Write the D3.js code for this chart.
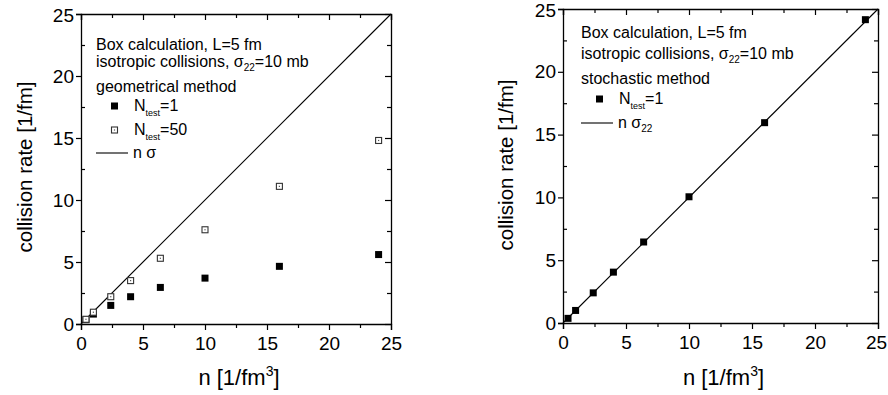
<!DOCTYPE html>
<html>
<head>
<meta charset="utf-8">
<script src="https://cdn.jsdelivr.net/npm/d3@7"></script>
<style>
  body { margin: 0; background: #fff; }
  svg { display: block; font-family: "Liberation Sans", Arial, sans-serif; }
</style>
</head>
<body>
<svg id="chart" width="888" height="395"></svg>
<script>
var svgWidth = 888, svgHeight = 395;

// density values n [1/fm^3]
var density = [0.4, 1, 2.4, 4, 6.4, 10, 16, 24];
// geometrical method
var geoNtest1 = [0.35, 0.8, 1.5, 2.2, 2.95, 3.7, 4.65, 5.6];
var geoNtest50 = [0.38, 0.95, 2.2, 3.5, 5.3, 7.6, 11.1, 14.8];
// stochastic method
var stochNtest1 = [0.37, 1.0, 2.4, 4.05, 6.45, 10.05, 15.95, 24.15];
// reference line n*sigma
var lineX = [0, 25];
var lineY = [0, 25];
var tickValues = [0, 5, 10, 15, 20, 25];
var minorTicks = [2.5, 7.5, 12.5, 17.5, 22.5];

var svg = d3.select('#chart');

function drawPanel(p) {
    var xScale = d3.scaleLinear().domain([0, 25]).range([p.left, p.right]),
        yScale = d3.scaleLinear().domain([0, 25]).range([p.bottom, p.top]);

    var g = svg.append('g');

    // axes: left/bottom ticks outward, top/right ticks inward
    var bottom = g.append('g').attr('transform', 'translate(0,' + p.bottom + ')')
        .call(d3.axisBottom(xScale).tickValues(tickValues).tickSize(6).tickPadding(7));
    g.append('g').attr('transform', 'translate(0,' + p.top + ')')
        .call(d3.axisBottom(xScale).tickValues(tickValues).tickSize(6).tickFormat(''));
    var left = g.append('g').attr('transform', 'translate(' + p.left + ',0)')
        .call(d3.axisLeft(yScale).tickValues(tickValues).tickSize(5).tickPadding(2));
    var right = g.append('g').attr('transform', 'translate(' + p.right + ',0)')
        .call(d3.axisLeft(yScale).tickValues(tickValues).tickSize(-6).tickSizeOuter(0).tickFormat(''));
    right.selectAll('.tick line').attr('x2', -6);

    // minor ticks
    g.append('g').attr('transform', 'translate(0,' + p.bottom + ')')
        .call(d3.axisBottom(xScale).tickValues(minorTicks).tickSize(4).tickFormat('')).select('.domain').remove();
    g.append('g').attr('transform', 'translate(0,' + p.top + ')')
        .call(d3.axisBottom(xScale).tickValues(minorTicks).tickSize(4).tickFormat('')).select('.domain').remove();
    g.append('g').attr('transform', 'translate(' + p.left + ',0)')
        .call(d3.axisLeft(yScale).tickValues(minorTicks).tickSize(-4).tickFormat('')).select('.domain').remove();
    g.append('g').attr('transform', 'translate(' + p.right + ',0)')
        .call(d3.axisLeft(yScale).tickValues(minorTicks).tickSize(4).tickFormat('')).select('.domain').remove();

    g.selectAll('.domain').attr('stroke-width', 1.3).attr('stroke', '#000');
    g.selectAll('.tick line').attr('stroke-width', 1.2).attr('stroke', '#000');
    g.selectAll('.tick text').attr('font-size', 19).attr('font-family', '"Liberation Sans", Arial, sans-serif').attr('fill', '#000');
    // keep the last x label inside the picture
    bottom.selectAll('.tick text').filter(function(d) { return d === 25; }).attr('dx', p.lastDx);
    left.selectAll('.tick text').filter(function(d) { return d === 25; }).attr('dy', '0.4em');

    // n sigma line
    var line = d3.line().x(function(d) { return xScale(d[0]); }).y(function(d) { return yScale(d[1]); });
    g.append('path')
        .datum(d3.zip(lineX, lineY))
        .attr('d', line)
        .attr('fill', 'none')
        .attr('stroke', '#000')
        .attr('stroke-width', 1.1);

    // data series
    p.series.forEach(function(s) {
        var pts = d3.zip(density, s.values);
        var sel = g.append('g').selectAll('rect').data(pts).enter();
        if (s.filled) {
            sel.append('rect')
                .attr('x', function(d) { return xScale(d[0]) - 3.5; })
                .attr('y', function(d) { return yScale(d[1]) - 3.5; })
                .attr('width', 7).attr('height', 7)
                .attr('fill', '#000');
        } else {
            sel.append('rect')
                .attr('x', function(d) { return xScale(d[0]) - 3; })
                .attr('y', function(d) { return yScale(d[1]) - 3; })
                .attr('width', 6).attr('height', 6)
                .attr('fill', '#fff').attr('stroke', '#333').attr('stroke-width', 1.1);
            sel.append('rect')
                .attr('x', function(d) { return xScale(d[0]) - 0.6; })
                .attr('y', function(d) { return yScale(d[1]) - 0.6; })
                .attr('width', 1.2).attr('height', 1.2)
                .attr('fill', '#555');
        }
    });

    // axis titles
    var xt = g.append('text')
        .attr('x', (p.left + p.right) / 2 + 3)
        .attr('y', 385)
        .attr('text-anchor', 'middle')
        .attr('font-size', 22);
    xt.append('tspan').text('n [1/fm');
    xt.append('tspan').attr('font-size', 14).attr('dy', -9).text('3');
    xt.append('tspan').attr('dy', 9).text(']');

    g.append('text')
        .attr('transform', 'translate(' + p.yTitleX + ',' + p.yTitleY + ') rotate(-90)')
        .attr('text-anchor', 'middle')
        .attr('font-size', 20.5)
        .text('collision rate [1/fm]');

    // legend text block
    var lx = p.legendX;
    var fs = 16;
    function plain(txt, y) {
        g.append('text').attr('x', lx).attr('y', y).attr('font-size', fs).text(txt);
    }
    plain('Box calculation, L=5 fm', p.legendY[0]);
    var t2 = g.append('text').attr('x', lx).attr('y', p.legendY[1]).attr('font-size', fs);
    t2.append('tspan').text('isotropic collisions, ');
    t2.append('tspan').text('σ');
    t2.append('tspan').attr('font-size', 10).attr('dy', 4).text('22');
    t2.append('tspan').attr('dy', -4).text('=10 mb');
    plain(p.method, p.legendY[2]);

    p.series.forEach(function(s, i) {
        var y = p.legendY[3 + i];
        if (s.filled) {
            g.append('rect').attr('x', lx + 15).attr('y', y - 8.5).attr('width', 7).attr('height', 7).attr('fill', '#000');
        } else {
            g.append('rect').attr('x', lx + 15.5).attr('y', y - 8).attr('width', 6).attr('height', 6)
                .attr('fill', '#fff').attr('stroke', '#333').attr('stroke-width', 1.1);
            g.append('rect').attr('x', lx + 17.9).attr('y', y - 5.6).attr('width', 1.2).attr('height', 1.2).attr('fill', '#555');
        }
        var t = g.append('text').attr('x', lx + 38).attr('y', y).attr('font-size', fs);
        t.append('tspan').text('N');
        t.append('tspan').attr('font-size', 9).attr('dy', 5).text('test');
        t.append('tspan').attr('dy', -5).text(s.label);
    });

    var ly = p.legendY[3 + p.series.length];
    g.append('line').attr('x1', lx).attr('x2', lx + 32).attr('y1', ly - 5).attr('y2', ly - 5)
        .attr('stroke', '#000').attr('stroke-width', 1.1);
    var tl = g.append('text').attr('x', lx + 37).attr('y', ly).attr('font-size', fs);
    tl.append('tspan').text('n σ');
    if (p.sigmaSub) {
        tl.append('tspan').attr('font-size', 10).attr('dy', 4).text('22');
    }
}

drawPanel({
    left: 81, right: 391, top: 14, bottom: 324,
    yTitleX: 32, yTitleY: 167,
    legendX: 96,
    legendY: [50, 67, 92, 111, 135, 158],
    method: 'geometrical method',
    sigmaSub: false,
    lastDx: 0,
    series: [
        {values: geoNtest1, filled: true, label: '=1'},
        {values: geoNtest50, filled: false, label: '=50'}
    ]
});

drawPanel({
    left: 563, right: 878, top: 9, bottom: 323,
    yTitleX: 513, yTitleY: 165,
    legendX: 581,
    legendY: [38, 59, 84, 104, 128],
    method: 'stochastic method',
    sigmaSub: true,
    lastDx: -2,
    series: [
        {values: stochNtest1, filled: true, label: '=1'}
    ]
});
</script>
</body>
</html>
